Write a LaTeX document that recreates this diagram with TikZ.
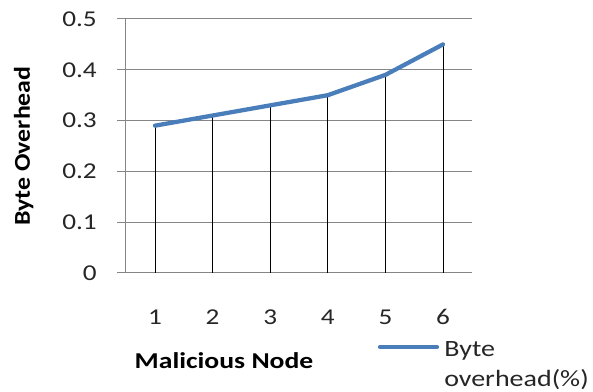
\documentclass[tikz,border=0pt]{standalone}
\usepackage{fontspec}
\usepackage{graphicx}
\setmainfont{Carlito}
\definecolor{seriesblue}{RGB}{74,126,187}
\definecolor{gridgray}{RGB}{134,134,134}
\newcommand{\wide}[2][1.2]{\scalebox{#1}[1]{#2}}
\begin{document}
\begin{tikzpicture}[x=0.75pt,y=-0.75pt,
  gridline/.style={draw=gridgray, line width=0.75pt},
  dropline/.style={draw=black, line width=0.75pt},
  series/.style={draw=seriesblue, line width=3.2pt, line cap=round, line join=round},
  txt/.style={font=\fontsize{17}{20}\selectfont, inner sep=0pt, text=black!85},
  ylbl/.style={txt, anchor=east},
  xlbl/.style={txt, anchor=center},
  lgtxt/.style={txt, font=\fontsize{17.5}{21}\selectfont, anchor=base west},
  axtitle/.style={txt, font=\fontsize{17}{20}\selectfont\bfseries, text=black}]
\useasboundingbox (0,0) rectangle (593,392);

% horizontal gridlines with their tick stubs, and the value axis
\foreach \v/\t in {0/0, 1/0.1, 2/0.2, 3/0.3, 4/0.4, 5/0.5} {
  \draw[gridline] (117,{273-50.8*\v}) -- (472,{273-50.8*\v});
  \node[ylbl] (yl\v) at (97,{273-50.8*\v}) {\wide{\t}};
}
\draw[gridline] (125,19) -- (125,273);

% data points and their feet on the category axis
\foreach \i/\val in {1/0.29, 2/0.31, 3/0.33, 4/0.35, 5/0.39, 6/0.45} {
  \coordinate (p\i) at ({155+57.6*(\i-1)},{273-508*\val});
  \coordinate (b\i) at ({155+57.6*(\i-1)},273);
  \draw[dropline] (b\i) -- (p\i);
  \node[xlbl] (xl\i) at ({155+57.6*(\i-1)},317) {\wide{\i}};
}

% series line
\draw[series] (p1) -- (p2) -- (p3) -- (p4) -- (p5) -- (p6);

% axis titles
\node[axtitle, anchor=base] (xtitle) at (224,368) {\wide[1.22]{Malicious Node}};
\node[axtitle, anchor=base, rotate=90] (ytitle) at (30,146) {\wide[1.14]{Byte Overhead}};

% legend
\coordinate (lg1) at (380,347);
\coordinate (lg2) at (437,347);
\draw[series] (lg1) -- (lg2);
\node[lgtxt] (lgt1) at (444,356) {\wide[1.2]{Byte}};
\node[lgtxt] (lgt2) at (444,386) {\wide[1.2]{overhead(\%)}};
\end{tikzpicture}
\end{document}
